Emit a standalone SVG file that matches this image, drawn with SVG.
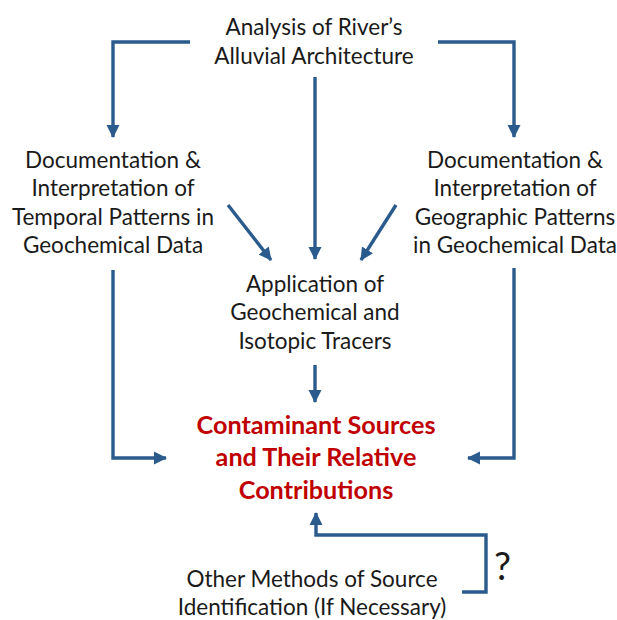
<svg xmlns="http://www.w3.org/2000/svg" width="617" height="620" viewBox="0 0 617 620">
<style>
.t{font-family:Lato,"Open Sans","Liberation Sans",sans-serif;font-size:22.5px;fill:#1a1a1a;text-anchor:middle}
.r{font-family:Lato,"Open Sans","Liberation Sans",sans-serif;font-size:25.2px;font-weight:bold;fill:#C00000;text-anchor:middle}
.q{font-family:Lato,"Open Sans","Liberation Sans",sans-serif;font-size:38px;fill:#1a1a1a}
.c{fill:none;stroke:#2A5B8C;stroke-width:3.4;marker-end:url(#ah)}
</style>
<defs>
<marker id="ah" markerUnits="userSpaceOnUse" markerWidth="14" markerHeight="14" viewBox="0 0 14 14" refX="12" refY="7" orient="auto">
<path d="M0,0.5 L13,7 L0,13.5 z" fill="#2A5B8C"/>
</marker>
</defs>
<rect width="617" height="620" fill="#fff"/>
<g id="connectors">
<path class="c" d="M190,42 H113 V137"/>
<path class="c" d="M438,42 H514 V137"/>
<path class="c" d="M315,77 V259"/>
<path class="c" d="M228,205 L271,260"/>
<path class="c" d="M396,205 L361,260"/>
<path class="c" d="M315,365 V402"/>
<path class="c" d="M113,270 V458 H166"/>
<path class="c" d="M514,268 V458 H468"/>
<path class="c" d="M462,592 H486 V535 H316 V513"/>
</g>
<g id="n-analysis">
<text class="t" x="314" y="35">Analysis of River’s</text>
<text class="t" x="314" y="64">Alluvial Architecture</text>
</g>
<g id="n-temporal">
<text class="t" x="113" y="168">Documentation &amp;</text>
<text class="t" x="113" y="196">Interpretation of</text>
<text class="t" x="113" y="225">Temporal Patterns in</text>
<text class="t" x="113" y="253">Geochemical Data</text>
</g>
<g id="n-geographic">
<text class="t" x="515" y="168">Documentation &amp;</text>
<text class="t" x="515" y="196">Interpretation of</text>
<text class="t" x="515" y="225">Geographic Patterns</text>
<text class="t" x="515" y="253">in Geochemical Data</text>
</g>
<g id="n-tracers">
<text class="t" x="315" y="292">Application of</text>
<text class="t" x="315" y="320">Geochemical and</text>
<text class="t" x="315" y="349">Isotopic Tracers</text>
</g>
<g id="n-sources">
<text class="r" x="316" y="434">Contaminant Sources</text>
<text class="r" x="316" y="466">and Their Relative</text>
<text class="r" x="316" y="499">Contributions</text>
</g>
<g id="n-other">
<text class="t" x="312" y="587">Other Methods of Source</text>
<text class="t" x="312" y="615">Identification (If Necessary)</text>
</g>
<text class="q" x="494" y="580">?</text>
</svg>
